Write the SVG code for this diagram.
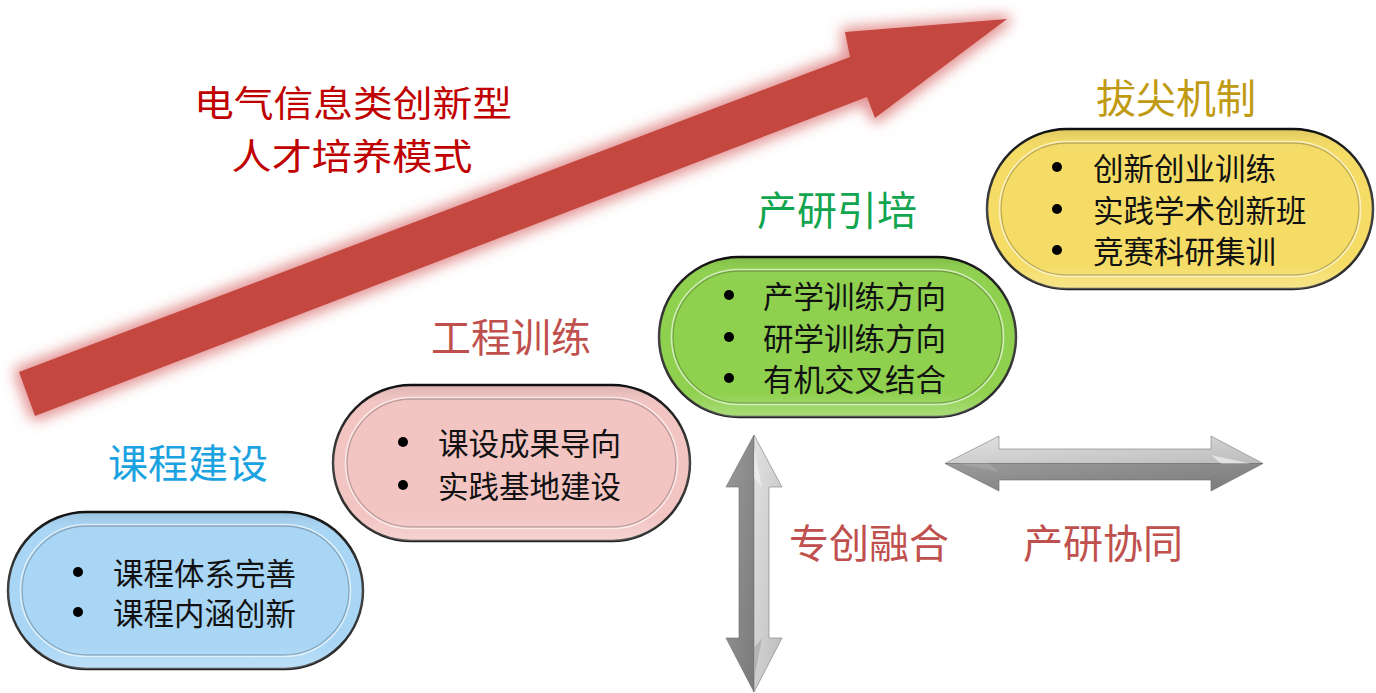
<svg xmlns="http://www.w3.org/2000/svg" width="1376" height="693" viewBox="0 0 1376 693">
  <defs>
    <style>
      text { font-family: "Noto Sans CJK SC", "Noto Sans", sans-serif; dominant-baseline: central; }
      .item { font-size: 30.5px; fill: #111; }
      .label { font-size: 40px; text-anchor: middle; }
      .title { font-size: 36px; text-anchor: middle; fill: #c00000; }
      .bullet { fill: #000; }
      .outer { stroke: url(#rimGrad); stroke-width: 2.5; }
      .inner-hi { fill: none; stroke: #ffffff; stroke-opacity: 0.6; stroke-width: 1.6; }
      .inner-lo { fill: none; stroke: #000000; stroke-opacity: 0.22; stroke-width: 1.4; }
      .sheen { fill: url(#sheenGrad); }
      .grey-light { fill: url(#lightGrey); stroke: #7a7a7a; stroke-width: 0.6; }
      .grey-dark { fill: url(#darkGrey); stroke: #6a6a6a; stroke-width: 0.6; }
    </style>
    <linearGradient id="rimGrad" x1="0" y1="0" x2="0" y2="1">
      <stop offset="0" stop-color="#111"/>
      <stop offset="0.5" stop-color="#444"/>
      <stop offset="1" stop-color="#222"/>
    </linearGradient>
    <linearGradient id="sheenGrad" x1="0" y1="0" x2="0" y2="1">
      <stop offset="0" stop-color="#000" stop-opacity="0.10"/>
      <stop offset="0.15" stop-color="#fff" stop-opacity="0"/>
      <stop offset="0.85" stop-color="#fff" stop-opacity="0"/>
      <stop offset="1" stop-color="#fff" stop-opacity="0.25"/>
    </linearGradient>
    <linearGradient id="lightGrey" x1="0" y1="0" x2="1" y2="1">
      <stop offset="0" stop-color="#e2e2e2"/>
      <stop offset="1" stop-color="#bcbcbc"/>
    </linearGradient>
    <linearGradient id="darkGrey" x1="0" y1="0" x2="1" y2="1">
      <stop offset="0" stop-color="#9a9a9a"/>
      <stop offset="1" stop-color="#7a7a7a"/>
    </linearGradient>
    <filter id="glow" x="-10%" y="-30%" width="120%" height="160%">
      <feMorphology in="SourceAlpha" operator="dilate" radius="4" result="d"/>
      <feGaussianBlur in="d" stdDeviation="7" result="b"/>
      <feFlood flood-color="#d96b6b" flood-opacity="0.75" result="c"/>
      <feComposite in="c" in2="b" operator="in" result="g"/>
      <feMerge>
        <feMergeNode in="g"/>
        <feMergeNode in="SourceGraphic"/>
      </feMerge>
    </filter>
  </defs>

  <rect width="1376" height="693" fill="#ffffff"/>

  <g id="connectors">
    <g id="main-arrow">
      <polygon points="19,372 850,57 845,32 1007,19 875,118 867,97 35,416" fill="#c4473f" filter="url(#glow)"/>
    </g>
    <g id="arrow-vertical">
      <polygon class="grey-dark" points="754,435 726,487 739,487 739,638 726,638 754,692"/>
      <polygon class="grey-light" points="754,435 782,487 769,487 769,638 782,638 754,692"/>
      <polygon points="754,448 762,487 754,478" fill="#f0f0f0" opacity="0.7"/>
      <polygon points="754,680 762,638 754,648" fill="#a8a8a8" opacity="0.7"/>
    </g>
    <g id="arrow-horizontal">
      <polygon class="grey-light" points="945,463.5 999,436 999,449 1211,449 1211,436 1263,463.5"/>
      <polygon class="grey-dark" points="945,463.5 999,491 999,480 1211,480 1211,491 1263,463.5"/>
      <polygon points="1250,463.5 1211,455 1221,463.5" fill="#f0f0f0" opacity="0.7"/>
      <polygon points="958,463.5 999,472 989,463.5" fill="#a8a8a8" opacity="0.7"/>
    </g>
  </g>

  <g id="title">
    <text class="title" x="353" y="101" textLength="318" lengthAdjust="spacingAndGlyphs">电气信息类创新型</text>
    <text class="title" x="352" y="154" textLength="241" lengthAdjust="spacingAndGlyphs">人才培养模式</text>
  </g>

  <g id="node-kechengjianshe">
    <text class="label" x="188" y="461" fill="#1aa3e0">课程建设</text>
    <rect class="outer" x="8" y="512" width="355" height="157" rx="78.5" fill="#a9d6f5"/>
    <rect class="sheen" x="8" y="512" width="355" height="157" rx="78.5"/>
    <rect class="inner-lo" x="22" y="526" width="327" height="129" rx="64.5"/>
    <rect class="inner-hi" x="20.5" y="524.5" width="330" height="132" rx="66"/>
    <circle class="bullet" cx="78" cy="572" r="5"/>
    <circle class="bullet" cx="78" cy="612" r="5"/>
    <text class="item" x="113" y="572">课程体系完善</text>
    <text class="item" x="113" y="612">课程内涵创新</text>
  </g>

  <g id="node-gongchengxunlian">
    <text class="label" x="511" y="335" fill="#c0504d">工程训练</text>
    <rect class="outer" x="333" y="385" width="357" height="156" rx="78" fill="#f2c5c3"/>
    <rect class="sheen" x="333" y="385" width="357" height="156" rx="78"/>
    <rect class="inner-lo" x="347" y="399" width="329" height="128" rx="64"/>
    <rect class="inner-hi" x="345.5" y="397.5" width="332" height="131" rx="65.5"/>
    <circle class="bullet" cx="403" cy="442" r="5"/>
    <circle class="bullet" cx="403" cy="485" r="5"/>
    <text class="item" x="438" y="442">课设成果导向</text>
    <text class="item" x="438" y="485">实践基地建设</text>
  </g>

  <g id="node-chanyanyinpei">
    <text class="label" x="837" y="208" fill="#10a54e">产研引培</text>
    <rect class="outer" x="659" y="257" width="357" height="160" rx="80" fill="#8fd14f"/>
    <rect class="sheen" x="659" y="257" width="357" height="160" rx="80"/>
    <rect class="inner-lo" x="673" y="271" width="329" height="132" rx="66"/>
    <rect class="inner-hi" x="671.5" y="269.5" width="332" height="135" rx="67.5"/>
    <circle class="bullet" cx="729" cy="295" r="5"/>
    <circle class="bullet" cx="729" cy="337" r="5"/>
    <circle class="bullet" cx="729" cy="378" r="5"/>
    <text class="item" x="763" y="295">产学训练方向</text>
    <text class="item" x="763" y="337">研学训练方向</text>
    <text class="item" x="763" y="378">有机交叉结合</text>
  </g>

  <g id="node-bajianjizhi">
    <text class="label" x="1176" y="96" fill="#bf9a12">拔尖机制</text>
    <rect class="outer" x="987" y="129" width="386" height="160" rx="80" fill="#f5dc66"/>
    <rect class="sheen" x="987" y="129" width="386" height="160" rx="80"/>
    <rect class="inner-lo" x="1001" y="143" width="358" height="132" rx="66"/>
    <rect class="inner-hi" x="999.5" y="141.5" width="361" height="135" rx="67.5"/>
    <circle class="bullet" cx="1057" cy="167" r="5"/>
    <circle class="bullet" cx="1057" cy="209" r="5"/>
    <circle class="bullet" cx="1057" cy="250" r="5"/>
    <text class="item" x="1093" y="167">创新创业训练</text>
    <text class="item" x="1093" y="209">实践学术创新班</text>
    <text class="item" x="1093" y="250">竞赛科研集训</text>
  </g>

  <g id="label-zhuanchuangronghe">
    <text class="label" x="869" y="541" fill="#c0504d">专创融合</text>
  </g>
  <g id="label-chanyanxietong">
    <text class="label" x="1103" y="541" fill="#c0504d">产研协同</text>
  </g>
</svg>
